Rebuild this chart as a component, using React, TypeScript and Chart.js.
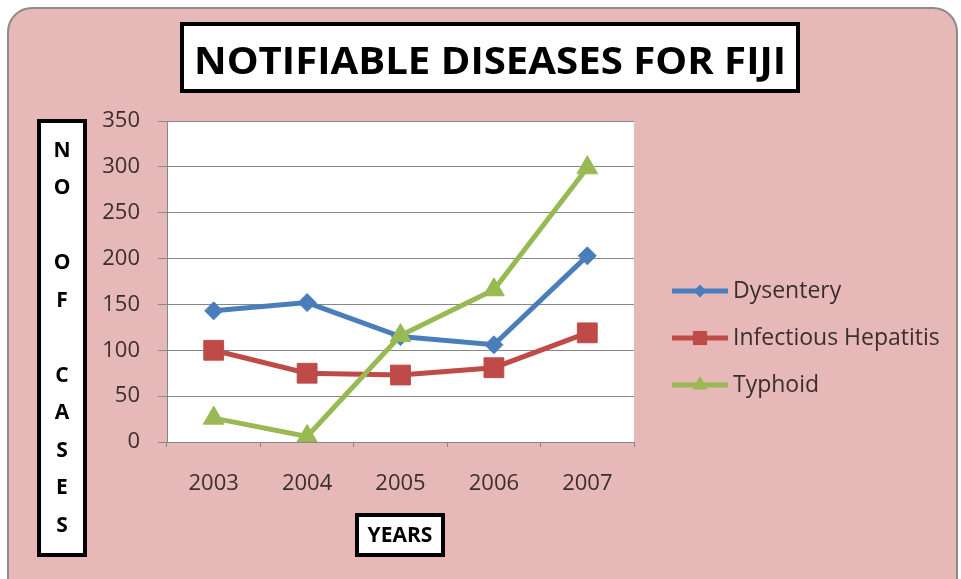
import React, { useEffect, useRef } from "react";
import { Chart, registerables } from "chart.js";

Chart.register(...registerables);

// ---- data ----
const years = ["2003", "2004", "2005", "2006", "2007"];
const dysentery = [143, 152, 115, 106, 203];
const hepatitis = [100, 75, 73, 81, 119];
const typhoid = [26, 6, 116, 166, 299];
const seriesNames = ["Dysentery", "Infectious Hepatitis", "Typhoid"];
const yMin = 0;
const yMax = 350;
const yStep = 50;
const titleText = "NOTIFIABLE DISEASES FOR FIJI";
const yTitleLetters = ["N", "O", "", "O", "F", "", "C", "A", "S", "E", "S"];
const xTitleText = "YEARS";

const BLUE = "#4A7EBB";
const RED = "#BE4B48";
const GREEN = "#98B954";
const PINK = "#E6B9B8";
const TICK_COLOR = "#3a2e2e";
const GRID = "#878787";
const FONT = "'Open Sans', 'DejaVu Sans', sans-serif";

function drawBox(ctx: CanvasRenderingContext2D, x: number, y: number, w: number, h: number, lw: number) {
  ctx.save();
  ctx.fillStyle = "#ffffff";
  ctx.fillRect(x, y, w, h);
  ctx.lineWidth = lw;
  ctx.strokeStyle = "#000000";
  ctx.strokeRect(x + lw / 2, y + lw / 2, w - lw, h - lw);
  ctx.restore();
}

function drawMarker(ctx: CanvasRenderingContext2D, style: string, x: number, y: number, r: number) {
  ctx.beginPath();
  if (style === "rect") {
    const s = Math.SQRT1_2 * r;
    ctx.rect(x - s, y - s, 2 * s, 2 * s);
  } else if (style === "triangle") {
    ctx.moveTo(x, y - r);
    ctx.lineTo(x + r * 0.866, y + r * 0.5);
    ctx.lineTo(x - r * 0.866, y + r * 0.5);
    ctx.closePath();
  } else {
    ctx.moveTo(x, y - r);
    ctx.lineTo(x + r, y);
    ctx.lineTo(x, y + r);
    ctx.lineTo(x - r, y);
    ctx.closePath();
  }
  ctx.fill();
}

const decorPlugin = {
  id: "decor",
  beforeDraw(chart: any) {
    const ctx: CanvasRenderingContext2D = chart.ctx;
    const { width, height } = chart;
    ctx.save();
    ctx.fillStyle = "#ffffff";
    ctx.fillRect(0, 0, width, height);
    const x = 8, y = 8, w = 949, h = 600, r = 24;
    ctx.beginPath();
    ctx.moveTo(x + r, y);
    ctx.lineTo(x + w - r, y);
    ctx.arcTo(x + w, y, x + w, y + r, r);
    ctx.lineTo(x + w, y + h);
    ctx.lineTo(x, y + h);
    ctx.lineTo(x, y + r);
    ctx.arcTo(x, y, x + r, y, r);
    ctx.closePath();
    ctx.fillStyle = PINK;
    ctx.fill();
    ctx.lineWidth = 2;
    ctx.strokeStyle = "#8e8a8a";
    ctx.stroke();
    const a = chart.chartArea;
    ctx.fillStyle = "#ffffff";
    ctx.fillRect(a.left, a.top, a.right - a.left, a.bottom - a.top);
    ctx.restore();
  },
  afterDraw(chart: any) {
    const ctx: CanvasRenderingContext2D = chart.ctx;
    ctx.save();
    // main title
    drawBox(ctx, 180, 22, 620, 71, 4);
    ctx.fillStyle = "#000000";
    ctx.font = `bold 38px ${FONT}`;
    ctx.textBaseline = "alphabetic";
    ctx.textAlign = "center";
    const tw = ctx.measureText(titleText).width;
    const sx = 592 / tw;
    ctx.save();
    ctx.translate(490, 74);
    ctx.scale(sx, 1);
    ctx.fillText(titleText, 0, 0);
    ctx.restore();

    // y title
    drawBox(ctx, 37, 119, 50, 438, 4);
    ctx.font = `bold 21px ${FONT}`;
    ctx.textBaseline = "middle";
    ctx.textAlign = "center";
    yTitleLetters.forEach((ch, i) => {
      if (ch) ctx.fillText(ch, 62, 151 + i * 37.5);
    });

    // x title
    drawBox(ctx, 355, 513, 90, 44, 4);
    ctx.font = `bold 21px ${FONT}`;
    ctx.fillText(xTitleText, 400, 536);

    // legend
    const ds = chart.data.datasets;
    const legendY = [291, 338, 385];
    ds.forEach((d: any, i: number) => {
      const yy = legendY[i];
      ctx.strokeStyle = d.borderColor;
      ctx.lineWidth = 5;
      ctx.beginPath();
      ctx.moveTo(672, yy);
      ctx.lineTo(728, yy);
      ctx.stroke();
      ctx.fillStyle = d.borderColor;
      const radius = d.pointStyle === "rect" ? 10 : d.pointStyle === "triangle" ? 9 : 6.5;
      drawMarker(ctx, d.pointStyle, 700, yy, radius);
      ctx.fillStyle = TICK_COLOR;
      ctx.font = `23px ${FONT}`;
      ctx.textAlign = "left";
      ctx.textBaseline = "middle";
      ctx.fillText(d.label, 733, yy);
    });
    ctx.restore();
  },
};

export default function App() {
  const ref = useRef<HTMLCanvasElement | null>(null);

  useEffect(() => {
    if (!ref.current) return;
    const mk = (label: string, data: number[], color: string, style: string, radius: number, order: number) => ({
      label,
      data,
      borderColor: color,
      backgroundColor: color,
      borderWidth: 5,
      pointStyle: style,
      pointRadius: radius,
      pointBorderWidth: 1,
      pointBorderColor: color,
      pointBackgroundColor: color,
      tension: 0,
      order,
    });
    const chart = new Chart(ref.current, {
      type: "line",
      data: {
        labels: years,
        datasets: [
          mk(seriesNames[0], dysentery, BLUE, "rectRot", 9, 3),
          mk(seriesNames[1], hepatitis, RED, "rect", 14, 2),
          mk(seriesNames[2], typhoid, GREEN, "triangle", 12, 1),
        ],
      },
      options: {
        responsive: false,
        animation: false,
        devicePixelRatio: 1,
        events: [],
        layout: { padding: { left: 100, top: 121, right: 327, bottom: 0 } },
        plugins: {
          legend: { display: false },
          title: { display: false },
          tooltip: { enabled: false },
        },
        scales: {
          x: {
            type: "category",
            offset: true,
            grid: {
              offset: true,
              drawOnChartArea: false,
              drawTicks: true,
              tickLength: 5,
              color: GRID,
            },
            border: { display: true, color: GRID, width: 1 },
            ticks: {
              font: { family: FONT, size: 22 },
              color: TICK_COLOR,
              padding: 24,
              maxRotation: 0,
            },
            afterFit: (s: any) => {
              s.height = 137;
            },
          },
          y: {
            min: yMin,
            max: yMax,
            ticks: {
              stepSize: yStep,
              font: { family: FONT, size: 22 },
              color: TICK_COLOR,
              padding: 18,
            },
            grid: { color: GRID, tickLength: 9, lineWidth: 1 },
            border: { display: true, color: GRID, width: 1 },
            afterFit: (s: any) => {
              s.width = 67;
            },
          },
        },
      },
      plugins: [decorPlugin],
    } as any);
    return () => chart.destroy();
  }, []);

  return (
    <div style={{ position: "absolute", left: 0, top: 0, width: 961, height: 579 }}>
      <canvas ref={ref} width={961} height={579} style={{ display: "block" }} />
    </div>
  );
}
